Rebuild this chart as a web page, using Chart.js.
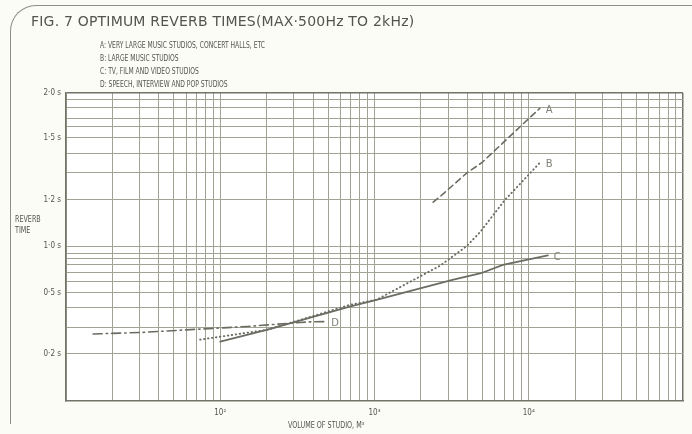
<!DOCTYPE html>
<html>
<head>
<meta charset="utf-8">
<script src="https://cdn.jsdelivr.net/npm/chart.js@4/dist/chart.umd.min.js"></script>
<style>
html, body { margin: 0; padding: 0; background: #fcfcf7; }
#wrap { position: relative; width: 692px; height: 434px; overflow: hidden; }
#chart { position: absolute; left: 0; top: 0; }
#frame { position: absolute; left: 10px; top: 5px; width: 720px; height: 418px;
  border-left: 1.5px solid #8e8e86; border-top: 1.5px solid #8e8e86; border-top-left-radius: 26px; }
.t { position: absolute; white-space: nowrap; color: #55554e; font-family: "DejaVu Sans", sans-serif; }
#title { left: 31px; top: 13px; font-size: 14px; letter-spacing: 0.2px; }
.leg { left: 100px; font-size: 8.5px; transform: scaleX(0.71); transform-origin: 0 0; }
.small { font-size: 8px; transform: scaleX(0.8); transform-origin: 0 0; }
</style>
</head>
<body>
<div id="wrap">
  <canvas id="chart" width="692" height="434"></canvas>
  <div id="frame"></div>
  <div class="t" id="title">FIG. 7 OPTIMUM REVERB TIMES(MAX·500Hz TO 2kHz)</div>
  <div class="t leg" style="top:40px">A: VERY LARGE MUSIC STUDIOS, CONCERT HALLS, ETC</div>
  <div class="t leg" style="top:53px">B: LARGE MUSIC STUDIOS</div>
  <div class="t leg" style="top:66px">C: TV, FILM AND VIDEO STUDIOS</div>
  <div class="t leg" style="top:79px">D: SPEECH, INTERVIEW AND POP STUDIOS</div>
  <div class="t small" style="left:15px; top:215px">REVERB</div>
  <div class="t small" style="left:15px; top:226px">TIME</div>
  <div class="t small" style="left:288px; top:421px">VOLUME OF STUDIO, M³</div>
</div>
<script>
// curve names
var SERIES = ['A', 'B', 'C', 'D'];

// volume of studio (m3) and reverb time (s)
var A_VOL = [2400, 2700, 3960, 4960, 8360, 11800];
var A_RT = [1.19, 1.22, 1.33, 1.38, 1.59, 1.83];

var B_VOL = [74, 200, 330, 690, 1030, 2660, 3960, 4830, 7010, 9930, 11800];
var B_RT = [0.27, 0.318, 0.367, 0.441, 0.466, 0.79, 1.0, 1.06, 1.2, 1.32, 1.38];

var C_VOL = [100, 200, 690, 1030, 3200, 4900, 6800, 13300];
var C_RT = [0.26, 0.318, 0.433, 0.466, 0.638, 0.71, 0.8, 0.9];

var D_VOL = [15, 30, 60, 150, 365, 480];
var D_RT = [0.298, 0.305, 0.318, 0.335, 0.357, 0.359];

// axis ticks
var X_GRID = [10, 20, 30, 40, 50, 60, 70, 80, 90,
    100, 200, 300, 400, 500, 600, 700, 800, 900,
    1000, 2000, 3000, 4000, 5000, 6000, 7000, 8000, 9000,
    10000, 20000, 30000, 40000, 50000, 60000, 70000, 80000, 90000, 100000];
var X_LABELS = {100: '10²', 1000: '10³', 10000: '10⁴'};
var Y_TICKS = [2.0, 1.5, 1.2, 1.0, 0.5, 0.2];
var Y_LABELS = ['2·0 s', '1·5 s', '1·2 s', '1·0 s', '0·5 s', '0·2 s'];
var Y_MINOR = [1.933, 1.844, 1.722, 1.633, 1.427, 1.331, 0.926, 0.862, 0.798, 0.723, 0.617, 0.426, 0.328];

// the printed time axis is not uniform: each labelled value sits at its own height
var STOP_VALUES = [0, 0.2, 0.5, 1.0, 1.2, 1.5, 2.0];
var STOP_FRACS = [0, 0.153, 0.351, 0.503, 0.653, 0.854, 1];

function valueToFrac(v) {
    for (var i = 1; i < STOP_VALUES.length; i++) {
        if (v <= STOP_VALUES[i] || i === STOP_VALUES.length - 1) {
            var t = (v - STOP_VALUES[i - 1]) / (STOP_VALUES[i] - STOP_VALUES[i - 1]);
            return STOP_FRACS[i - 1] + t * (STOP_FRACS[i] - STOP_FRACS[i - 1]);
        }
    }
    return 0;
}

function fracToValue(f) {
    for (var i = 1; i < STOP_FRACS.length; i++) {
        if (f <= STOP_FRACS[i] || i === STOP_FRACS.length - 1) {
            var t = (f - STOP_FRACS[i - 1]) / (STOP_FRACS[i] - STOP_FRACS[i - 1]);
            return STOP_VALUES[i - 1] + t * (STOP_VALUES[i] - STOP_VALUES[i - 1]);
        }
    }
    return 0;
}

class ReverbScale extends Chart.LinearScale {
    buildTicks() {
        return Y_TICKS.concat(Y_MINOR).map(function (v) { return {value: v}; });
    }
    getPixelForValue(value) {
        return this.bottom - valueToFrac(value) * (this.bottom - this.top);
    }
    getValueForPixel(pixel) {
        return fracToValue((this.bottom - pixel) / (this.bottom - this.top));
    }
}
ReverbScale.id = 'reverb';
ReverbScale.defaults = Chart.LinearScale.defaults;
Chart.register(ReverbScale);

const INK = '#6c6c63';
const GRID = '#a2a293';
const EDGE = '#737369';
const TICK_FONT = {family: '"Liberation Sans Narrow", "DejaVu Sans Condensed", "Liberation Sans", sans-serif', size: 8};

function pairs(xs, ys) {
    return xs.map(function (x, i) { return {x: x, y: ys[i]}; });
}

function makeDataset(name, xs, ys, dash, width) {
    return {
        label: name,
        data: pairs(xs, ys),
        borderColor: INK,
        borderWidth: width,
        borderDash: dash,
        borderCapStyle: 'round',
        pointRadius: 0,
        tension: 0,
        fill: false
    };
}

var curveLabels = {
    id: 'curveLabels',
    afterDatasetsDraw: function (chart) {
        var ctx = chart.ctx;
        ctx.save();
        ctx.font = '10px "DejaVu Sans", sans-serif';
        ctx.fillStyle = '#808077';
        ctx.textBaseline = 'middle';
        chart.data.datasets.forEach(function (ds, i) {
            var pts = chart.getDatasetMeta(i).data;
            var last = pts[pts.length - 1];
            ctx.fillText(ds.label, last.x + 6, last.y + 2);
        });
        ctx.restore();
    }
};

var plotBg = {
    id: 'plotBg',
    beforeDraw: function (chart) {
        var a = chart.chartArea;
        chart.ctx.save();
        chart.ctx.fillStyle = '#ffffff';
        chart.ctx.fillRect(a.left, a.top, a.right - a.left, a.bottom - a.top);
        chart.ctx.restore();
    }
};

new Chart(document.getElementById('chart'), {
    type: 'line',
    data: {
        datasets: [
            makeDataset(SERIES[0], A_VOL, A_RT, [6, 4], 1.6),
            makeDataset(SERIES[1], B_VOL, B_RT, [0.5, 3.5], 1.9),
            makeDataset(SERIES[2], C_VOL, C_RT, [], 1.8),
            makeDataset(SERIES[3], D_VOL, D_RT, [9, 4, 1.5, 4], 1.6)
        ]
    },
    options: {
        responsive: false,
        animation: false,
        events: [],
        layout: {padding: {left: 0, top: 93, right: 9, bottom: 0}},
        plugins: {legend: {display: false}, tooltip: {enabled: false}},
        scales: {
            x: {
                type: 'logarithmic',
                min: 10,
                max: 100000,
                afterBuildTicks: function (scale) {
                    scale.ticks = X_GRID.map(function (v) { return {value: v}; });
                },
                afterFit: function (scale) { scale.height = 33; },
                grid: {
                    drawTicks: false,
                    color: function (c) { return c.tick && c.tick.value === 100000 ? EDGE : GRID; },
                    lineWidth: function (c) { return c.tick && c.tick.value === 100000 ? 1.5 : 1; }
                },
                border: {color: EDGE, width: 1.5},
                ticks: {
                    autoSkip: false,
                    maxRotation: 0,
                    padding: 7,
                    color: '#55554e',
                    font: TICK_FONT,
                    callback: function (v) { return X_LABELS[v] || ''; }
                }
            },
            y: {
                type: 'reverb',
                min: 0,
                max: 2.0,
                afterFit: function (scale) { scale.width = 66; },
                grid: {
                    drawTicks: false,
                    color: function (c) { return c.tick && c.tick.value === 2.0 ? EDGE : GRID; },
                    lineWidth: function (c) { return c.tick && c.tick.value === 2.0 ? 1.5 : 1; }
                },
                border: {color: EDGE, width: 1.5},
                ticks: {
                    autoSkip: false,
                    padding: 5,
                    color: '#55554e',
                    font: TICK_FONT,
                    callback: function (v) {
                        var i = Y_TICKS.indexOf(v);
                        return i >= 0 ? Y_LABELS[i] : '';
                    }
                }
            }
        }
    },
    plugins: [plotBg, curveLabels]
});
</script>
</body>
</html>
